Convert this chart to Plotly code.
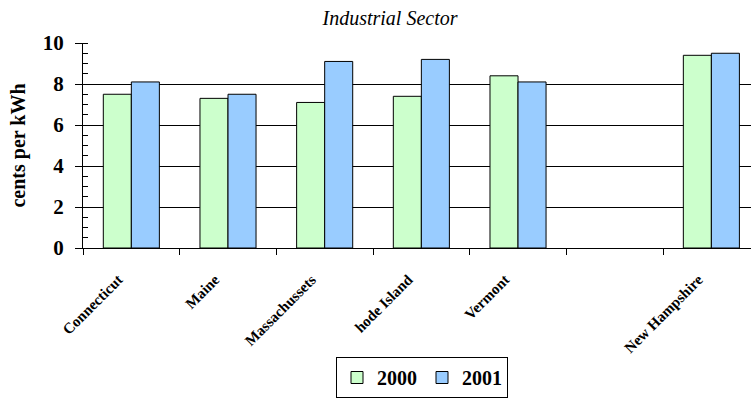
import plotly.graph_objects as go

states = ["Connecticut", "Maine", "Massachussets", "hode Island", "Vermont", " ", "New Hampshire"]
y2000 = [7.5, 7.3, 7.1, 7.4, 8.4, None, 9.4]
y2001 = [8.1, 7.5, 9.1, 9.2, 8.1, None, 9.5]

FONT = "Times New Roman, Liberation Serif, serif"

fig = go.Figure()
fig.add_trace(go.Bar(name="2000", x=states, y=y2000,
                     marker=dict(color="#CCFFCC", line=dict(color="black", width=1))))
fig.add_trace(go.Bar(name="2001", x=states, y=y2001,
                     marker=dict(color="#99CCFF", line=dict(color="black", width=1))))

fig.update_layout(
    width=751, height=398,
    margin=dict(l=83, r=0, t=43, b=150),
    paper_bgcolor="white", plot_bgcolor="white",
    barmode="group", bargap=0.42, bargroupgap=0,
    font=dict(family=FONT, color="black"),
    title=dict(text="Industrial Sector", x=390/751, xanchor="center",
               y=1 - 18/398, yanchor="middle",
               font=dict(size=20, family=FONT, style="italic")),
    showlegend=True,
    legend=dict(orientation="h", xref="container", yref="container",
                x=422/751, xanchor="center", y=0, yanchor="bottom",
                bordercolor="black", borderwidth=1,
                font=dict(size=20, family=FONT, weight="bold"),
                itemwidth=30, tracegroupgap=0),
    xaxis=dict(type="category", range=[-0.5, 6.41], tickson="boundaries",
               ticks="outside", ticklen=6, tickcolor="black",
               showline=True, linecolor="black", linewidth=1,
               showgrid=False, tickangle=-45, ticklabelstandoff=16,
               ticklabelshift=-13,
               tickfont=dict(size=15, family=FONT, weight="bold")),
    yaxis=dict(range=[0, 10], dtick=2, tick0=0,
               ticks="outside", ticklen=7, tickcolor="black",
               showline=True, linecolor="black", linewidth=1,
               showgrid=True, gridcolor="black", gridwidth=1,
               zeroline=False, ticklabelstandoff=7,
               minor=dict(dtick=0.5, ticks="inside", ticklen=5, tickcolor="black", showgrid=False),
               tickfont=dict(size=21, family=FONT, weight="bold"),
               title=dict(text="cents per kWh", standoff=11,
                          font=dict(size=20, family=FONT, weight="bold"))),
)

fig.write_html("out.html")
